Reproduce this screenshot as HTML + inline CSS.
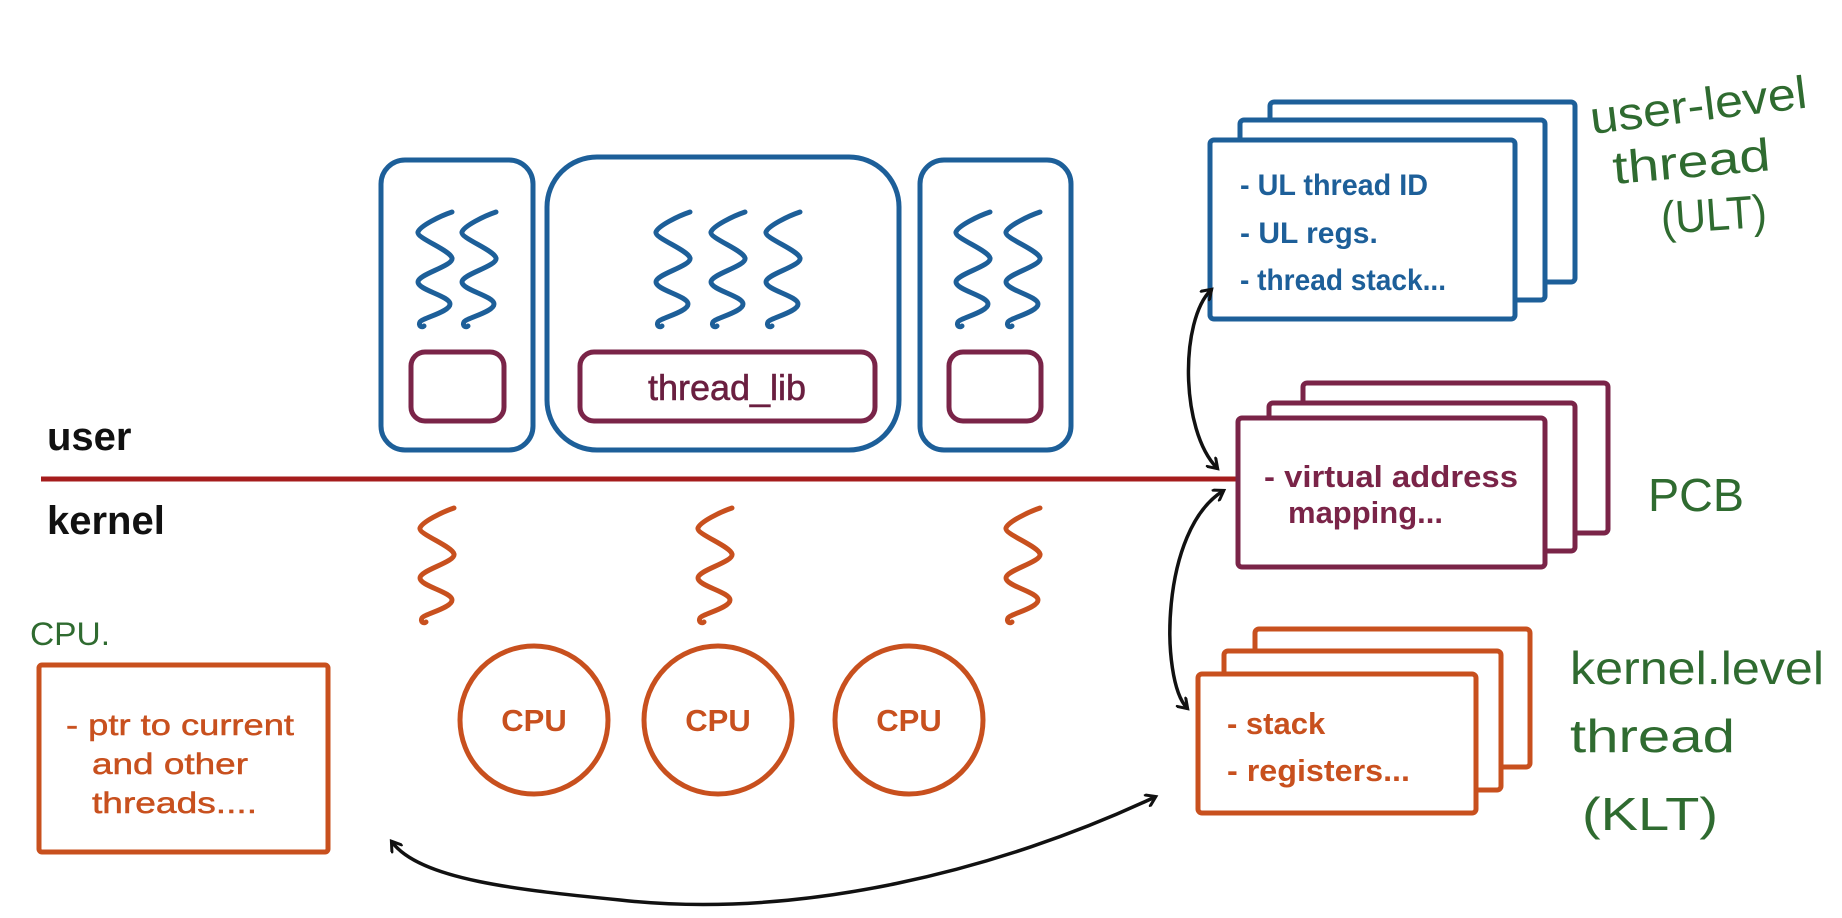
<!DOCTYPE html>
<html><head><meta charset="utf-8"><style>
html,body{margin:0;padding:0;background:#fff;}
svg{display:block;}
.sans{font-family:"Liberation Sans",sans-serif;}
</style></head><body>
<svg width="1842" height="918" viewBox="0 0 1842 918" xmlns="http://www.w3.org/2000/svg">
<defs>
<path id="sq" d="M40 0 C28 4 8 14 6 20 C4 26 38 38 40 46 C42 54 6 62 6 70 C6 78 38 84 38 92 C38 100 10 106 8 110 C6 114 10 116 12 114" fill="none" stroke-width="5" stroke-linecap="round" stroke-linejoin="round"/>
<marker id="ah" markerWidth="14" markerHeight="14" refX="10" refY="7" orient="auto" markerUnits="userSpaceOnUse"><path d="M2 1 L11 7 L2 13" fill="none" stroke="#111" stroke-width="3" stroke-linecap="round"/></marker>
<marker id="ahs" markerWidth="14" markerHeight="14" refX="4" refY="7" orient="auto" markerUnits="userSpaceOnUse"><path d="M12 1 L3 7 L12 13" fill="none" stroke="#111" stroke-width="3" stroke-linecap="round"/></marker>
</defs>

<g fill="none" stroke="#1d5f99" stroke-width="5">
<rect x="381" y="160" width="152" height="290" rx="24"/>
<rect x="547" y="157" width="352" height="293" rx="50"/>
<rect x="920" y="160" width="151" height="290" rx="24"/>
</g>
<g fill="none" stroke="#7a2448" stroke-width="5">
<rect x="411" y="352" width="93" height="69" rx="14"/>
<rect x="580" y="352" width="295" height="69" rx="14"/>
<rect x="949" y="352" width="92" height="69" rx="14"/>
</g>
<text x="727" y="400" text-anchor="middle" class="sans" font-size="36" fill="#6a1f40" stroke="#6a1f40" stroke-width="0.6">thread_lib</text>

<g stroke="#1d5f99">
<use href="#sq" x="412" y="212"/>
<use href="#sq" x="456" y="212"/>
<use href="#sq" x="650" y="212"/>
<use href="#sq" x="705" y="212"/>
<use href="#sq" x="760" y="212"/>
<use href="#sq" x="950" y="212"/>
<use href="#sq" x="1000" y="212"/>
</g>

<text x="47" y="450" class="sans" font-size="40" font-weight="bold" fill="#111">user</text>
<text x="47" y="534" class="sans" font-size="40" font-weight="bold" fill="#111">kernel</text>
<line x1="41" y1="479" x2="1237" y2="479" stroke="#a51c1c" stroke-width="5"/>

<g stroke="#c8501e">
<use href="#sq" x="414" y="508"/>
<use href="#sq" x="692" y="508"/>
<use href="#sq" x="1000" y="508"/>
</g>

<g fill="none" stroke="#c8501e" stroke-width="5">
<circle cx="534" cy="720" r="74"/>
<circle cx="718" cy="720" r="74"/>
<circle cx="909" cy="720" r="74"/>
</g>
<g class="sans" font-size="31" font-weight="bold" fill="#c8501e" text-anchor="middle">
<text x="534" y="731">CPU</text>
<text x="718" y="731">CPU</text>
<text x="909" y="731">CPU</text>
</g>

<text x="30" y="645" class="sans" font-size="32" fill="#2f6b30" textLength="80" lengthAdjust="spacingAndGlyphs">CPU.</text>
<rect x="39" y="665" width="289" height="187" fill="none" stroke="#c8501e" stroke-width="5" rx="3"/>
<g class="sans" font-size="30" fill="#c8501e" stroke="#c8501e" stroke-width="0.5">
<text x="66" y="735" textLength="228" lengthAdjust="spacingAndGlyphs">- ptr to current</text>
<text x="92" y="774" textLength="156" lengthAdjust="spacingAndGlyphs">and other</text>
<text x="92" y="813" textLength="165" lengthAdjust="spacingAndGlyphs">threads....</text>
</g>

<g fill="#fff" stroke="#1d5f99" stroke-width="5">
<rect x="1270" y="102" width="305" height="180" rx="4"/>
<rect x="1240" y="120" width="305" height="180" rx="4"/>
<rect x="1210" y="140" width="305" height="179" rx="4"/>
</g>
<g class="sans" font-size="30" font-weight="bold" fill="#1d5f99">
<text x="1240" y="195" textLength="188" lengthAdjust="spacingAndGlyphs">- UL thread ID</text>
<text x="1240" y="243">- UL regs.</text>
<text x="1240" y="290" textLength="206" lengthAdjust="spacingAndGlyphs">- thread stack...</text>
</g>

<g fill="#fff" stroke="#7a2448" stroke-width="5">
<rect x="1303" y="383" width="305" height="150" rx="4"/>
<rect x="1269" y="403" width="306" height="148" rx="4"/>
<rect x="1238" y="418" width="307" height="149" rx="4"/>
</g>
<g class="sans" font-size="31" font-weight="bold" fill="#7a2448">
<text x="1264" y="487" textLength="254" lengthAdjust="spacingAndGlyphs">- virtual address</text>
<text x="1288" y="523">mapping...</text>
</g>

<g fill="#fff" stroke="#c8501e" stroke-width="5">
<rect x="1255" y="629" width="275" height="138" rx="4"/>
<rect x="1224" y="651" width="277" height="139" rx="4"/>
<rect x="1198" y="674" width="278" height="139" rx="4"/>
</g>
<g class="sans" font-size="31" font-weight="bold" fill="#c8501e">
<text x="1227" y="734">- stack</text>
<text x="1227" y="781" textLength="183" lengthAdjust="spacingAndGlyphs">- registers...</text>
</g>

<g fill="none" stroke="#111" stroke-width="3.5" stroke-linecap="round">
<path d="M1211 290 C1180 320 1180 430 1217 468" marker-start="url(#ahs)" marker-end="url(#ah)"/>
<path d="M1223 491 C1160 530 1160 680 1187 708" marker-start="url(#ahs)" marker-end="url(#ah)"/>
<path d="M392 842 C420 880 520 890 620 900 C800 920 1000 870 1155 797" marker-start="url(#ahs)" marker-end="url(#ah)"/>
</g>

<g class="sans" font-size="46" fill="#2f6b30">
<text x="1592" y="134" transform="rotate(-7 1592 134)" textLength="218" lengthAdjust="spacingAndGlyphs">user-level</text>
<text x="1614" y="184" transform="rotate(-5 1614 184)" textLength="158" lengthAdjust="spacingAndGlyphs">thread</text>
<text x="1662" y="234" transform="rotate(-4 1662 234)" textLength="106" lengthAdjust="spacingAndGlyphs">(ULT)</text>
<text x="1648" y="511" textLength="96" lengthAdjust="spacingAndGlyphs">PCB</text>
<text x="1570" y="684" textLength="254" lengthAdjust="spacingAndGlyphs">kernel.level</text>
<text x="1570" y="752" textLength="165" lengthAdjust="spacingAndGlyphs">thread</text>
<text x="1582" y="830" textLength="136" lengthAdjust="spacingAndGlyphs">(KLT)</text>
</g>
</svg>
</body></html>
